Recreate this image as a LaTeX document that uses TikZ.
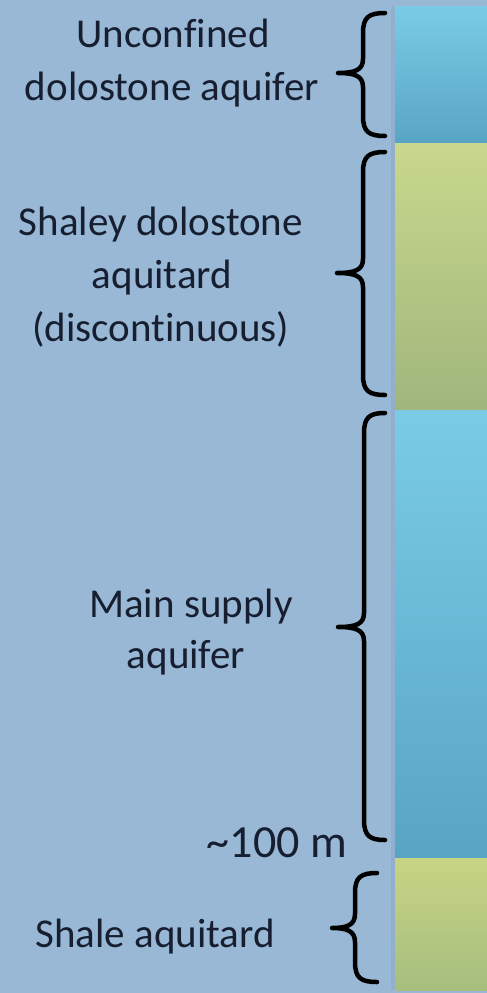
\documentclass[tikz,border=0pt]{standalone}
\usepackage{fontspec}
\setmainfont{Carlito}[Ligatures={NoCommon}]
\definecolor{bg}{RGB}{152,184,214}
\definecolor{txt}{RGB}{22,30,48}
\definecolor{bluetop}{RGB}{122,204,230}
\definecolor{bluebot}{RGB}{88,164,196}
\definecolor{yeltop}{RGB}{200,216,140}
\definecolor{yelbot}{RGB}{160,182,124}
\definecolor{shadetop}{RGB}{200,212,132}
\definecolor{shadebot}{RGB}{166,190,126}
\tikzset{
  lbl/.style={anchor=base, inner sep=0pt, text=txt, font=\fontsize{41}{50}\selectfont},
  bigl/.style={anchor=base east, inner sep=0pt, text=txt, font=\fontsize{46}{55}\selectfont},
  bracestyle/.style={draw=black, line width=4.5pt, line cap=round, line join=round},
}
% #1 end x, #2 vertical x, #3 tip x, #4 top y, #5 middle y, #6 bottom y
\newcommand{\drawbracepath}[6]{%
  \draw[bracestyle] (#1,#4) .. controls (#2+6,#4) and (#2,#4+4) .. (#2,#4+20)
    -- (#2,#5-14) .. controls (#2,#5-3) and (#2-8,#5) .. (#3,#5)
    .. controls (#2-8,#5) and (#2,#5+3) .. (#2,#5+14)
    -- (#2,#6-20) .. controls (#2,#6-4) and (#2+6,#6) .. (#1,#6);}
\begin{document}
\begin{tikzpicture}[x=1pt,y=-1pt]
\fill[bg] (0,0) rectangle (487,993);
\useasboundingbox (0,0) rectangle (487,993);
% column shadow
\fill[bg!85!black, opacity=0.25] (391,6) rectangle (395,990);
% layers
\shade[top color=bluetop, bottom color=bluebot] (395,6) rectangle (487,143);
\shade[top color=yeltop, bottom color=yelbot] (395,143) rectangle (487,410);
\shade[top color=bluetop, bottom color=bluebot] (395,410) rectangle (487,858);
\shade[top color=shadetop, bottom color=shadebot] (395,858) rectangle (487,990);
% braces
\drawbracepath{385}{363}{338}{13}{73}{136}
\drawbracepath{385}{363}{337}{152}{273}{395}
\drawbracepath{385}{364}{338}{413}{627}{840}
\drawbracepath{377}{355}{332}{873}{928}{982}
% labels
\node[lbl] (u1) at (173,47) {Unconfined};
\node[lbl] (u2) at (172,100) {dolostone aquifer};
\node[lbl] (s1) at (161,235) {Shaley dolostone};
\node[lbl] (s2) at (162,288) {aquitard};
\node[lbl] (s3) at (161,341) {(discontinuous)};
\node[lbl] (m1) at (191,617) {Main supply};
\node[lbl] (m2) at (186,668) {aquifer};
\node[bigl] (d) at (347,857) {\char`\~100 m};
\node[lbl] (sh) at (155,947) {Shale aquitard};
\end{tikzpicture}
\end{document}
